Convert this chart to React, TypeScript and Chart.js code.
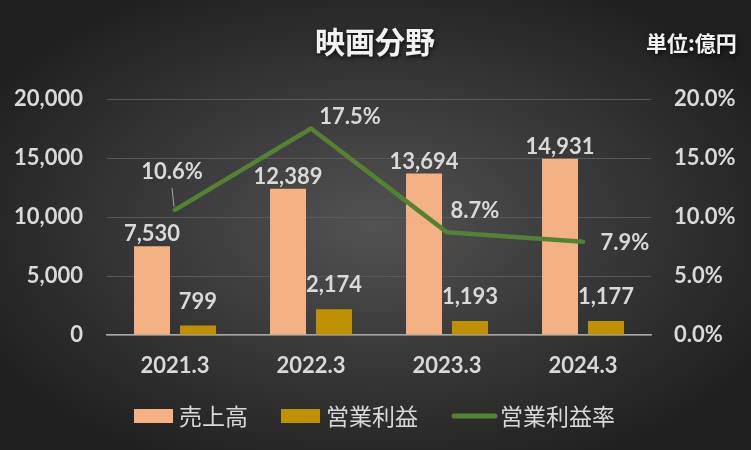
import React, { useEffect, useRef } from "react";
import { Chart, registerables } from "chart.js";
Chart.register(...registerables);

const categories = ["2021.3", "2022.3", "2023.3", "2024.3"];
const sales = [7530, 12389, 13694, 14931];
const operatingProfit = [799, 2174, 1193, 1177];
const marginPct = [10.6, 17.5, 8.7, 7.9];
const leftTicks = [0, 5000, 10000, 15000, 20000];
const rightTicks = [0, 5, 10, 15, 20];
const seriesNames = ["売上高", "営業利益", "営業利益率"];
const titleText = "映画分野";
const unitText = "単位:億円";

const COLORS = { sales: "#F4B183", profit: "#BF9000", margin: "#548235", text: "#D9D9D9", grid: "#595959" };
const NUM_FONT = "Lato, 'Open Sans', sans-serif";
const CJK_FONT = "'Noto Sans CJK JP', 'Noto Sans', sans-serif";
// label offsets (style only) for the margin line labels, relative to point
const lineLabelOffsets = [[-3, -38], [39, -12], [28, -21], [42, 1]];

const fmtNum = (v: number) => v.toLocaleString("en-US");
const fmtPct = (v: number) => v.toFixed(1) + "%";

const decor = {
  id: "decor",
  beforeDraw(chart: any) {
    const { ctx, width, height } = chart;
    ctx.save();
    ctx.translate(width / 2, height / 2);
    ctx.scale(1, height / width);
    const r = Math.hypot(width / 2, width / 2);
    const g = ctx.createRadialGradient(0, 0, 0, 0, 0, r * 0.85);
    g.addColorStop(0, "#525252");
    g.addColorStop(1, "#1f1f1f");
    ctx.fillStyle = g;
    ctx.fillRect(-width, -width, width * 2, width * 2);
    ctx.restore();
  },
  afterDatasetsDraw(chart: any) {
    const { ctx } = chart;
    ctx.save();
    ctx.fillStyle = COLORS.text;
    ctx.textAlign = "center";
    ctx.textBaseline = "middle";
    ctx.font = `bold 22px ${NUM_FONT}`;
    const m0 = chart.getDatasetMeta(0);
    m0.data.forEach((el: any, i: number) => ctx.fillText(fmtNum(sales[i]), el.x, el.y - 12));
    const m1 = chart.getDatasetMeta(1);
    m1.data.forEach((el: any, i: number) => ctx.fillText(fmtNum(operatingProfit[i]), el.x, el.y - 24));
    const m2 = chart.getDatasetMeta(2);
    m2.data.forEach((el: any, i: number) => {
      const [dx, dy] = lineLabelOffsets[i];
      ctx.fillText(fmtPct(marginPct[i]), el.x + dx, el.y + dy);
    });
    // leader line for first label
    const p = m2.data[0];
    ctx.strokeStyle = "#A6A6A6";
    ctx.lineWidth = 1;
    ctx.beginPath();
    ctx.moveTo(p.x - 3, p.y - 22);
    ctx.lineTo(p.x - 1, p.y - 3);
    ctx.stroke();
    ctx.restore();
  },
  afterDraw(chart: any) {
    const { ctx } = chart;
    ctx.save();
    ctx.textBaseline = "middle";
    // title
    ctx.fillStyle = "#F2F2F2";
    ctx.shadowColor = "rgba(0,0,0,0.7)";
    ctx.shadowBlur = 4;
    ctx.shadowOffsetX = 1;
    ctx.shadowOffsetY = 2;
    ctx.textAlign = "center";
    ctx.font = `bold 30px ${CJK_FONT}`;
    ctx.fillText(titleText, 375, 42);
    ctx.font = `bold 21px ${CJK_FONT}`;
    ctx.textAlign = "left";
    ctx.fillText(unitText, 646, 43);
    ctx.shadowColor = "transparent";
    // legend
    const ly = 416;
    ctx.font = `23px ${CJK_FONT}`;
    ctx.fillStyle = COLORS.sales;
    ctx.fillRect(134, ly - 7, 39, 14);
    ctx.fillStyle = COLORS.text;
    ctx.fillText(seriesNames[0], 179, ly);
    ctx.fillStyle = COLORS.profit;
    ctx.fillRect(281, ly - 7, 39, 14);
    ctx.fillStyle = COLORS.text;
    ctx.fillText(seriesNames[1], 326, ly);
    ctx.strokeStyle = COLORS.margin;
    ctx.lineWidth = 5;
    ctx.lineCap = "round";
    ctx.beginPath();
    ctx.moveTo(454, ly);
    ctx.lineTo(495, ly);
    ctx.stroke();
    ctx.fillStyle = COLORS.text;
    ctx.fillText(seriesNames[2], 500, ly);
    ctx.restore();
  },
};

export default function App() {
  const ref = useRef<HTMLCanvasElement | null>(null);
  useEffect(() => {
    document.body.style.margin = "0";
    const barOpts = { barPercentage: 0.783, categoryPercentage: 0.676 };
    const chart = new Chart(ref.current as HTMLCanvasElement, {
      type: "bar",
      data: {
        labels: categories,
        datasets: [
          { type: "bar", label: seriesNames[0], data: sales, backgroundColor: COLORS.sales, yAxisID: "y", order: 2, ...barOpts },
          { type: "bar", label: seriesNames[1], data: operatingProfit, backgroundColor: COLORS.profit, yAxisID: "y", order: 2, ...barOpts },
          { type: "line", label: seriesNames[2], data: marginPct, borderColor: COLORS.margin, borderWidth: 4.5, pointRadius: 0, tension: 0, yAxisID: "y1", order: 0, borderJoinStyle: "round", borderCapStyle: "round" } as any,
        ],
      },
      options: {
        responsive: false,
        animation: false,
        layout: { padding: { top: 99, left: 0, right: 0, bottom: 0 } },
        plugins: { legend: { display: false }, tooltip: { enabled: false }, title: { display: false } },
        scales: {
          x: {
            grid: { display: false, drawTicks: false },
            border: { display: true, color: "#A6A6A6", width: 1.5 },
            ticks: { color: COLORS.text, font: { family: NUM_FONT, size: 22, weight: "bold" }, padding: 18, maxRotation: 0 },
            afterFit: (s: any) => { s.height = 115; },
          },
          y: {
            position: "left",
            min: 0,
            max: 20000,
            afterBuildTicks: (s: any) => { s.ticks = leftTicks.map((v) => ({ value: v })); },
            grid: { color: COLORS.grid, lineWidth: 1, drawTicks: false },
            border: { display: false },
            ticks: { color: COLORS.text, font: { family: NUM_FONT, size: 22, weight: "bold" }, padding: 24, callback: (v: any) => fmtNum(Number(v)) },
            afterFit: (s: any) => { s.width = 107; },
          },
          y1: {
            position: "right",
            min: 0,
            max: 20,
            afterBuildTicks: (s: any) => { s.ticks = rightTicks.map((v) => ({ value: v })); },
            grid: { display: false, drawTicks: false },
            border: { display: false },
            ticks: { color: COLORS.text, font: { family: NUM_FONT, size: 22, weight: "bold" }, padding: 23, callback: (v: any) => fmtPct(Number(v)) },
            afterFit: (s: any) => { s.width = 100; },
          },
        },
      },
      plugins: [decor],
    } as any);
    return () => chart.destroy();
  }, []);
  return (
    <div style={{ position: "fixed", left: 0, top: 0, width: 751, height: 450 }}>
      <canvas ref={ref} width={751} height={450} style={{ display: "block" }} />
    </div>
  );
}
